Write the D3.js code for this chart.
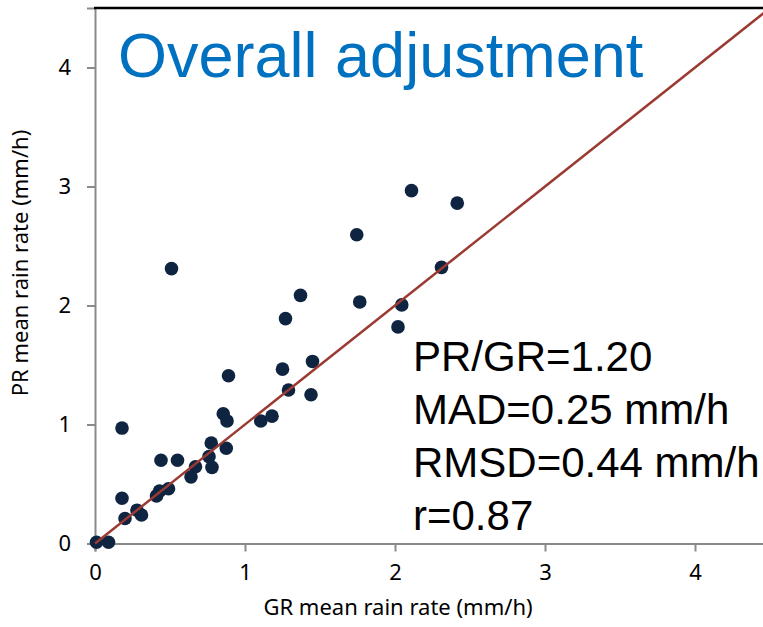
<!DOCTYPE html>
<html>
<head>
<meta charset="utf-8">
<script src="https://cdn.jsdelivr.net/npm/d3@7/dist/d3.min.js"></script>
<style>
  html, body { margin: 0; padding: 0; background: #fff; }
  svg { display: block; }
</style>
</head>
<body>
<script>
// Gauge rain rate (GR) vs. precipitation radar rate (PR), mm/h
const grValues = [0.01, 0.09, 0.18, 0.18, 0.20, 0.28, 0.31, 0.41, 0.43, 0.49,
                  0.44, 0.55, 0.51, 0.64, 0.67, 0.76, 0.78, 0.775, 0.855, 0.88,
                  0.875, 0.89, 1.105, 1.18, 1.25, 1.29, 1.44, 1.45, 1.27, 1.37,
                  1.745, 1.765, 2.02, 2.045, 2.11, 2.31, 2.415];
const prValues = [0.01, 0.01, 0.97, 0.38, 0.21, 0.28, 0.24, 0.40, 0.44, 0.46,
                  0.70, 0.70, 2.31, 0.56, 0.645, 0.73, 0.64, 0.845, 1.09, 1.03,
                  0.80, 1.41, 1.03, 1.07, 1.465, 1.29, 1.25, 1.53, 1.89, 2.085,
                  2.595, 2.03, 1.82, 2.005, 2.965, 2.32, 2.86];
const xTicks = [0, 1, 2, 3, 4];
const yTicks = [0, 1, 2, 3, 4];
const oneToOne = [0, 4.5];
const statLines = ["PR/GR=1.20", "MAD=0.25 mm/h", "RMSD=0.44 mm/h", "r=0.87"];
const titleText = "Overall adjustment";
const xLabel = "GR mean rain rate (mm/h)";
const yLabel = "PR mean rain rate (mm/h)";

const W = 763, H = 627;
const svg = d3.select("body").append("svg").attr("width", W).attr("height", H);

const x = d3.scaleLinear().domain([0, 4.5]).range([95, 770]);
const y = d3.scaleLinear().domain([0, 4.5]).range([543.5, 8]);

const axisColor = "#8a8a8a";
const tickFont = "'Noto Sans', 'Open Sans', sans-serif";

// x axis
const gx = svg.append("g").attr("transform", `translate(0,${y(0)})`)
  .call(d3.axisBottom(x).tickValues(xTicks).tickSize(8).tickPadding(13).tickFormat(d3.format("d")));
gx.select(".domain").attr("stroke", axisColor).attr("stroke-width", 2);
gx.selectAll(".tick line").attr("stroke", axisColor).attr("stroke-width", 2);
gx.selectAll(".tick text").attr("fill", "#000").style("font-family", tickFont).style("font-size", "22px");

// y axis
const gy = svg.append("g").attr("transform", `translate(${x(0)},0)`)
  .call(d3.axisLeft(y).tickValues(yTicks).tickSize(8).tickPadding(16).tickFormat(d3.format("d")));
gy.select(".domain").attr("stroke", axisColor).attr("stroke-width", 2);
gy.selectAll(".tick line").attr("stroke", axisColor).attr("stroke-width", 2);
gy.selectAll(".tick text").attr("fill", "#000").style("font-family", tickFont).style("font-size", "22px");

// top frame edge
svg.append("line")
  .attr("x1", x(0) - 1).attr("x2", W)
  .attr("y1", y(4.5)).attr("y2", y(4.5))
  .attr("stroke", "#000").attr("stroke-width", 2.5);

// scatter points
svg.append("g").selectAll("circle")
  .data(grValues.map((g, i) => [g, prValues[i]]))
  .join("circle")
  .attr("cx", d => x(d[0]))
  .attr("cy", d => y(d[1]))
  .attr("r", 6.8)
  .attr("fill", "#0f2440");

// 1:1 reference line
svg.append("line")
  .attr("x1", x(oneToOne[0])).attr("y1", y(oneToOne[0]))
  .attr("x2", x(oneToOne[1])).attr("y2", y(oneToOne[1]))
  .attr("stroke", "#9b3a33").attr("stroke-width", 2.5);

// title
svg.append("text")
  .attr("x", 118).attr("y", 77)
  .attr("fill", "#0070c0")
  .style("font-family", "'Liberation Sans', Arial, sans-serif")
  .style("font-size", "63px")
  .text(titleText);

// statistics block
svg.append("g").selectAll("text")
  .data(statLines)
  .join("text")
  .attr("x", 413)
  .attr("y", (d, i) => 371 + i * 53)
  .attr("fill", "#000")
  .style("font-family", "'Liberation Sans', Arial, sans-serif")
  .style("font-size", "42px")
  .text(d => d);

// axis titles
svg.append("text")
  .attr("x", 398).attr("y", 615)
  .attr("text-anchor", "middle")
  .attr("fill", "#000")
  .style("font-family", tickFont)
  .style("font-size", "22px")
  .text(xLabel);

svg.append("text")
  .attr("transform", "translate(28,263) rotate(-90)")
  .attr("text-anchor", "middle")
  .attr("fill", "#000")
  .style("font-family", tickFont)
  .style("font-size", "22px")
  .text(yLabel);
</script>
</body>
</html>
